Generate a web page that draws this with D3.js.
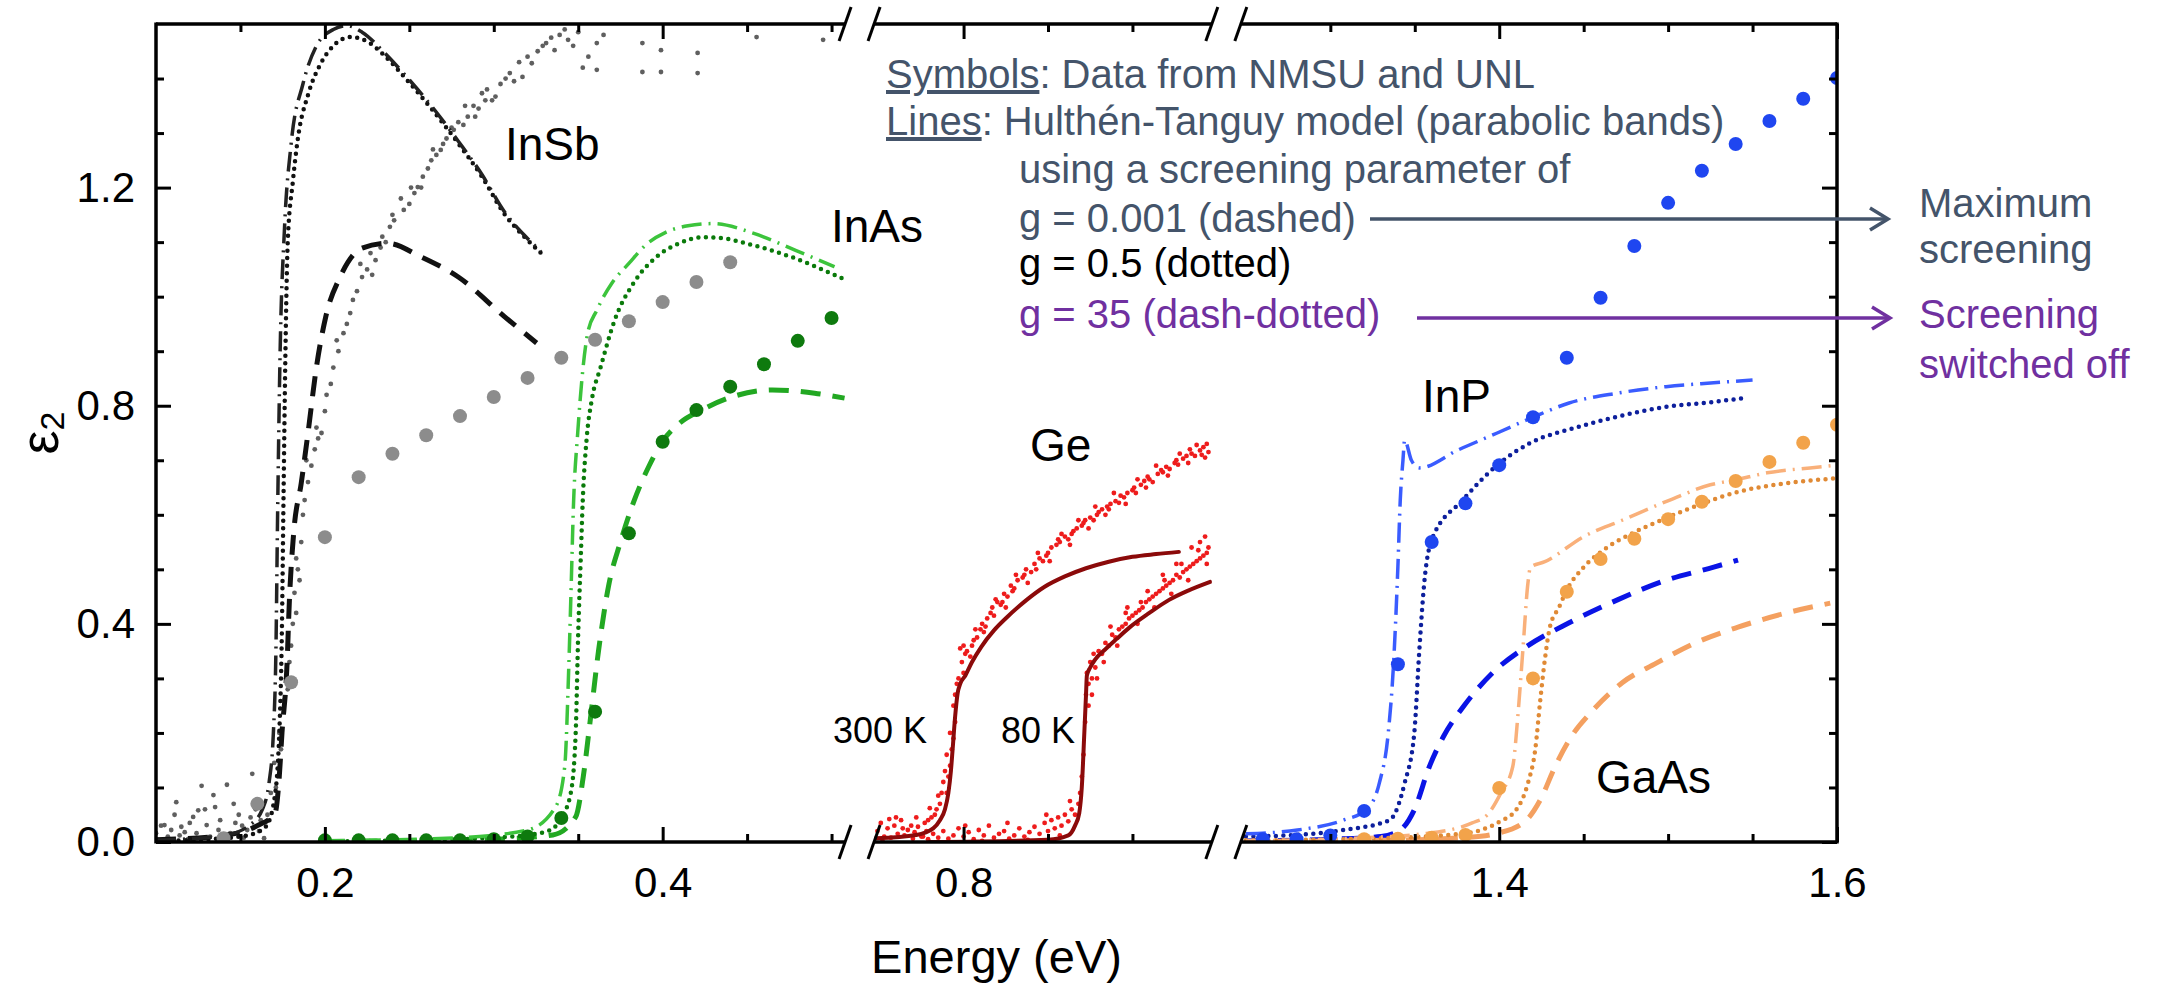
<!DOCTYPE html>
<html>
<head>
<meta charset="utf-8">
<script src="https://cdn.jsdelivr.net/npm/d3@7"></script>
<style>
  body { margin: 0; background: #fff; }
  text { font-family: "Liberation Sans", Arial, sans-serif; }
</style>
</head>
<body>
<div id="chart"></div>
<script>
// broken energy axis: three visible pieces
const segments = [[0.1, 0.508], [0.747, 0.947], [1.247, 1.6]];
const xMajorTicks = [0.2, 0.4, 0.8, 1.4, 1.6];
const xMinorTicks = [0.15, 0.25, 0.3, 0.35, 0.45, 0.5, 0.85, 0.9, 1.3, 1.35, 1.45, 1.5, 1.55];
const yMajorTicks = [0, 0.4, 0.8, 1.2];
const yMinorTicks = [0.1, 0.2, 0.3, 0.5, 0.6, 0.7, 0.9, 1.0, 1.1, 1.3, 1.4];

// InSb
const insbSymbols = [[0.14,0.007],[0.16,0.07],[0.18,0.293],[0.20,0.559],[0.22,0.669],[0.24,0.712],[0.26,0.746],[0.28,0.781],[0.30,0.816],[0.32,0.851],[0.34,0.888],[0.36,0.921],[0.38,0.955],[0.40,0.990],[0.42,1.027],[0.44,1.063]];
const insbData = [[0.100,0.016],[0.101,0.004],[0.103,0.03],[0.105,0.031],[0.107,0.01],[0.109,0.022],[0.111,0.05],[0.112,0.073],[0.114,0.012],[0.115,0.028],[0.117,0.018],[0.119,0.005],[0.120,0.035],[0.122,0.046],[0.124,0.016],[0.125,0.058],[0.127,0.103],[0.129,0.06],[0.130,0.031],[0.132,0.01],[0.134,0.086],[0.135,0.064],[0.137,0.022],[0.138,0.04],[0.140,0.012],[0.142,0.105],[0.144,0.016],[0.146,0.07],[0.147,0.035],[0.149,0.05],[0.151,0.03],[0.152,0.008],[0.154,0.022],[0.156,0.045],[0.157,0.125],[0.159,0.06],[0.161,0.02],[0.162,0.04],[0.164,0.007],[0.166,0.05],
  [0.168,0.09],[0.170,0.145],[0.171,0.1],[0.173,0.2],[0.174,0.17],[0.176,0.26],[0.177,0.3],[0.179,0.33],[0.180,0.36],[0.181,0.40],[0.182,0.457],[0.183,0.42],[0.184,0.5],[0.185,0.48],[0.186,0.55],[0.187,0.6],[0.188,0.627],[0.190,0.66],[0.192,0.69],[0.194,0.72],[0.196,0.74],[0.198,0.75],[0.200,0.79],[0.2035,0.84],[0.205,0.87],[0.208,0.90],[0.211,0.933],[0.213,0.95],[0.2166,0.994],[0.219,1.01],[0.222,1.036],[0.225,1.05],[0.228,1.04],[0.230,1.067],[0.233,1.09],[0.236,1.10],[0.2385,1.128],[0.241,1.14],[0.2467,1.159],[0.250,1.17],
  [0.178,0.28],[0.183,0.52],[0.189,0.70],[0.195,0.76],[0.201,0.82],[0.207,0.92],[0.215,0.97],[0.221,1.06],[0.227,1.08],[0.234,1.11],[0.240,1.15],[0.245,1.18],[0.251,1.20],[0.257,1.20],[0.264,1.27],[0.270,1.28],[0.275,1.31],[0.283,1.35],[0.289,1.33],[0.295,1.36],
  [0.253,1.19],[0.255,1.201],[0.258,1.22],[0.261,1.235],[0.263,1.25],[0.266,1.26],[0.2686,1.269],[0.272,1.29],[0.2763,1.306],[0.279,1.32],[0.282,1.315],[0.2846,1.33],[0.288,1.35],[0.291,1.345],[0.293,1.373],[0.296,1.38],[0.299,1.36],[0.301,1.367],[0.304,1.39],[0.307,1.40],[0.3095,1.41],[0.312,1.395],[0.315,1.43],[0.317,1.403],[0.320,1.44],[0.3225,1.428],[0.326,1.45],[0.329,1.46],[0.331,1.465],[0.334,1.475],[0.336,1.452],[0.339,1.48],[0.342,1.49],[0.344,1.471],[0.347,1.46],[0.350,1.485],[0.3527,1.42],[0.356,1.44],[0.361,1.465],[0.361,1.416],[0.365,1.48],[0.388,1.465],[0.388,1.412],[0.399,1.452],[0.399,1.412],[0.4207,1.447],[0.4207,1.41],[0.4556,1.476],[0.495,1.471]];
const insbDashed = [[0.100,0.004],[0.140,0.012],[0.160,0.03],[0.1705,0.053],[0.173,0.12],[0.1746,0.2],[0.1775,0.32],[0.179,0.444],[0.1815,0.566],[0.186,0.658],[0.190,0.75],[0.195,0.871],[0.2005,0.963],[0.209,1.036],[0.222,1.089],[0.237,1.098],[0.257,1.073],[0.279,1.036],[0.3065,0.963],[0.3254,0.915]];
const insbDotted = [[0.100,0.002],[0.130,0.005],[0.150,0.01],[0.160,0.018],[0.165,0.028],[0.170,0.077],[0.173,0.2],[0.1745,0.38],[0.1755,0.63],[0.1765,0.87],[0.178,1.10],[0.181,1.21],[0.184,1.29],[0.190,1.37],[0.198,1.43],[0.205,1.46],[0.215,1.476],[0.225,1.468],[0.236,1.44],[0.247,1.403],[0.263,1.345],[0.279,1.281],[0.293,1.22],[0.306,1.153],[0.318,1.11],[0.328,1.080]];
const insbDashDot = [[0.100,0.003],[0.140,0.012],[0.155,0.03],[0.163,0.06],[0.167,0.11],[0.1695,0.2],[0.171,0.35],[0.172,0.6],[0.1735,0.9],[0.176,1.12],[0.180,1.28],[0.187,1.39],[0.195,1.46],[0.205,1.49],[0.213,1.497],[0.222,1.485],[0.236,1.445],[0.247,1.408],[0.263,1.35],[0.279,1.285],[0.293,1.224],[0.306,1.157],[0.318,1.113],[0.328,1.083]];

// InAs
const inasSymbols = [[0.20,0.003],[0.22,0.003],[0.24,0.003],[0.26,0.003],[0.28,0.003],[0.30,0.005],[0.32,0.01],[0.34,0.044],[0.36,0.239],[0.38,0.566],[0.40,0.734],[0.42,0.792],[0.44,0.835],[0.46,0.876],[0.48,0.919],[0.50,0.961]];
const inasDashed = [[0.20,0.001],[0.30,0.005],[0.335,0.013],[0.3485,0.046],[0.353,0.12],[0.357,0.22],[0.362,0.35],[0.368,0.47],[0.375,0.55],[0.383,0.625],[0.392,0.69],[0.40,0.735],[0.41,0.768],[0.423,0.792],[0.4408,0.816],[0.465,0.829],[0.49,0.823],[0.5077,0.814]];
const inasDotted = [[0.20,0.001],[0.25,0.003],[0.30,0.008],[0.32,0.013],[0.3337,0.022],[0.340,0.045],[0.3456,0.09],[0.3485,0.2],[0.350,0.383],[0.3515,0.52],[0.3527,0.627],[0.355,0.74],[0.358,0.81],[0.3633,0.871],[0.3716,0.957],[0.3828,1.025],[0.3964,1.073],[0.41,1.098],[0.4231,1.109],[0.436,1.107],[0.449,1.098],[0.476,1.073],[0.506,1.034]];
const inasDashDot = [[0.20,0.002],[0.28,0.008],[0.32,0.022],[0.3367,0.065],[0.342,0.138],[0.3444,0.32],[0.3456,0.444],[0.3473,0.627],[0.3497,0.75],[0.3556,0.933],[0.361,0.975],[0.37,1.025],[0.38,1.061],[0.39,1.095],[0.4018,1.118],[0.415,1.13],[0.43,1.134],[0.454,1.116],[0.4787,1.085],[0.5018,1.055]];

// Ge (300 K and 80 K)
const ge300Data = [[0.749,0.020],[0.751,0.035],[0.753,0.010],[0.755,0.025],[0.757,0.008],[0.759,0.030],[0.761,0.015],[0.763,0.040],[0.765,0.012],[0.767,0.022],[0.769,0.030],[0.771,0.018],[0.773,0.028],[0.775,0.010],[0.777,0.035],[0.779,0.040],[0.781,0.045],[0.783,0.050],[0.760,0.045],[0.770,0.006],[0.778,0.020],[0.752,0.002],[0.756,0.042],[0.764,0.025],[0.772,0.045],[0.780,0.062],[0.785,0.085],
  [0.784,0.060],[0.786,0.070],[0.787,0.090],[0.788,0.110],[0.789,0.130],[0.790,0.160],[0.791,0.120],[0.792,0.200],[0.793,0.170],[0.794,0.250],[0.795,0.220],[0.796,0.290],[0.797,0.300],[0.799,0.330],[0.800,0.310],[0.790,0.09],[0.792,0.14],[0.794,0.19],[0.795,0.27],[0.798,0.355],[0.800,0.36],
  [0.801,0.345],[0.802,0.350],[0.804,0.340],[0.805,0.360],[0.806,0.370],[0.808,0.375],[0.810,0.390],[0.811,0.400],[0.812,0.385],[0.814,0.410],[0.816,0.420],[0.817,0.430],[0.818,0.415],[0.820,0.440],[0.822,0.435],[0.823,0.440],[0.824,0.455],[0.826,0.450],[0.828,0.470],[0.829,0.460],[0.830,0.465],[0.832,0.480],[0.835,0.485],[0.836,0.490],[0.837,0.500],[0.840,0.495],[0.842,0.510],[0.843,0.500],[0.845,0.520],[0.847,0.515],[0.849,0.525],[0.850,0.530],[0.852,0.540],[0.855,0.545],[0.856,0.555],[0.857,0.550],[0.860,0.560],[0.862,0.555],[0.864,0.565],[0.865,0.570],[0.867,0.575],[0.870,0.580],[0.871,0.585],[0.872,0.590],[0.875,0.595],[0.877,0.590],[0.879,0.600],[0.880,0.605],[0.882,0.610],[0.885,0.615],[0.886,0.610],[0.887,0.620],[0.890,0.625],[0.892,0.622],[0.893,0.635],[0.895,0.632],[0.897,0.640],[0.900,0.645],[0.901,0.650],[0.902,0.640],[0.905,0.655],[0.907,0.662],[0.909,0.670],[0.910,0.665],[0.912,0.660],[0.915,0.675],[0.917,0.682],[0.918,0.678],[0.920,0.688],[0.922,0.684],[0.925,0.695],[0.926,0.700],[0.927,0.692],[0.930,0.703],[0.932,0.708],[0.934,0.720],[0.935,0.712],[0.937,0.708],[0.940,0.718],[0.941,0.710],[0.942,0.724],[0.944,0.730],[0.945,0.715],
  [0.807,0.39],[0.813,0.395],[0.819,0.445],[0.825,0.43],[0.831,0.49],[0.838,0.475],[0.844,0.53],[0.851,0.515],[0.858,0.565],[0.863,0.545],[0.868,0.59],[0.874,0.575],[0.878,0.615],[0.884,0.60],[0.889,0.64],[0.896,0.62],[0.903,0.665],[0.908,0.65],[0.914,0.69],[0.921,0.672],[0.928,0.712],[0.933,0.695],[0.938,0.728],[0.943,0.705]];
const ge80Data = [[0.776,0.010],[0.779,0.005],[0.782,0.015],[0.785,0.008],[0.788,0.020],[0.791,0.006],[0.794,0.012],[0.797,0.025],[0.800,0.010],[0.803,0.018],[0.806,0.005],[0.809,0.022],[0.812,0.012],[0.815,0.030],[0.818,0.008],[0.821,0.015],[0.824,0.020],[0.827,0.006],[0.830,0.012],[0.833,0.025],[0.836,0.010],[0.839,0.018],[0.842,0.028],[0.845,0.015],[0.848,0.035],[0.850,0.020],[0.852,0.040],[0.854,0.025],[0.856,0.045],[0.858,0.030],[0.860,0.050],[0.862,0.038],[0.864,0.060],[0.866,0.050],[0.868,0.070],[0.869,0.090],[0.801,0.03],[0.811,0.002],[0.826,0.035],[0.838,0.004],[0.849,0.05],[0.857,0.012],[0.863,0.075],
  [0.870,0.120],[0.871,0.160],[0.872,0.220],[0.8725,0.270],[0.873,0.310],[0.874,0.290],[0.875,0.330],[0.876,0.300],[0.877,0.345],[0.878,0.320],[0.880,0.350],[0.882,0.345],[0.884,0.365],[0.886,0.360],[0.888,0.380],[0.890,0.375],[0.892,0.390],[0.894,0.395],[0.896,0.400],[0.898,0.410],[0.900,0.415],[0.902,0.420],[0.904,0.425],[0.906,0.430],[0.908,0.440],[0.910,0.445],[0.912,0.450],[0.914,0.455],[0.916,0.460],[0.918,0.465],[0.920,0.470],[0.922,0.475],[0.924,0.480],[0.926,0.490],[0.928,0.485],[0.930,0.495],[0.932,0.500],[0.934,0.505],[0.936,0.510],[0.938,0.515],[0.940,0.520],[0.942,0.525],[0.944,0.530],[0.945,0.540],[0.940,0.550],[0.943,0.560],[0.935,0.540],[0.926,0.510],[0.918,0.490],[0.905,0.440],[0.896,0.420],
  [0.874,0.25],[0.876,0.27],[0.879,0.30],[0.883,0.33],[0.887,0.395],[0.891,0.36],[0.897,0.43],[0.903,0.40],[0.909,0.46],[0.913,0.43],[0.919,0.48],[0.923,0.455],[0.929,0.51],[0.933,0.48],[0.939,0.535],[0.944,0.51]];
const ge300Model = [[0.748,0.007],[0.772,0.013],[0.782,0.025],[0.786,0.04],[0.789,0.06],[0.791,0.09],[0.7925,0.13],[0.7935,0.169],[0.795,0.23],[0.7965,0.273],[0.798,0.29],[0.801,0.305],[0.805,0.33],[0.8105,0.358],[0.818,0.388],[0.826,0.413],[0.837,0.443],[0.848,0.468],[0.86,0.487],[0.8725,0.502],[0.886,0.514],[0.900,0.523],[0.914,0.528],[0.9275,0.532]];
const ge80Model = [[0.78,0.0],[0.85,0.004],[0.862,0.012],[0.866,0.03],[0.8685,0.053],[0.870,0.1],[0.8715,0.2],[0.8725,0.27],[0.873,0.305],[0.875,0.32],[0.878,0.335],[0.8835,0.352],[0.8905,0.372],[0.8985,0.394],[0.91,0.42],[0.9217,0.444],[0.933,0.461],[0.946,0.477]];

// InP
const inpSymbols = [[1.26,0.005],[1.28,0.005],[1.30,0.012],[1.32,0.057],[1.34,0.326],[1.36,0.55],[1.38,0.621],[1.40,0.691],[1.42,0.779],[1.44,0.888],[1.46,0.998],[1.48,1.093],[1.50,1.172],[1.52,1.231],[1.54,1.280],[1.56,1.322],[1.58,1.363],[1.60,1.401]];
const inpDashed = [[1.25,0.002],[1.30,0.005],[1.33,0.01],[1.3414,0.022],[1.3497,0.059],[1.3586,0.138],[1.3669,0.193],[1.3787,0.248],[1.396,0.31],[1.416,0.358],[1.4414,0.402],[1.47,0.444],[1.4988,0.48],[1.527,0.504],[1.5414,0.517]];
const inpDotted = [[1.25,0.01],[1.28,0.013],[1.3077,0.022],[1.335,0.04],[1.344,0.108],[1.3497,0.2],[1.3527,0.352],[1.3556,0.475],[1.36,0.554],[1.3787,0.628],[1.3988,0.691],[1.4185,0.732],[1.4444,0.759],[1.47,0.78],[1.4988,0.798],[1.527,0.807],[1.5444,0.814]];
const inpDashDot = [[1.25,0.015],[1.2805,0.022],[1.3077,0.04],[1.3213,0.059],[1.329,0.108],[1.3343,0.2],[1.3373,0.32],[1.340,0.505],[1.3414,0.627],[1.343,0.70],[1.344,0.737],[1.348,0.70],[1.3527,0.686],[1.3757,0.719],[1.3988,0.75],[1.42,0.779],[1.4414,0.805],[1.4698,0.823],[1.4988,0.835],[1.527,0.842],[1.55,0.847]];

// GaAs
const gaasSymbols = [[1.32,0.005],[1.34,0.006],[1.36,0.008],[1.38,0.013],[1.40,0.099],[1.42,0.30],[1.44,0.459],[1.46,0.519],[1.48,0.556],[1.50,0.592],[1.52,0.624],[1.54,0.662],[1.56,0.697],[1.58,0.732],[1.60,0.765]];
const gaasDashed = [[1.25,0.001],[1.33,0.003],[1.38,0.008],[1.399,0.016],[1.416,0.04],[1.4243,0.077],[1.433,0.138],[1.4414,0.187],[1.4556,0.242],[1.4728,0.292],[1.493,0.328],[1.516,0.365],[1.5414,0.394],[1.57,0.42],[1.596,0.438]];
const gaasDotted = [[1.25,0.003],[1.32,0.006],[1.38,0.016],[1.40,0.037],[1.41,0.059],[1.417,0.108],[1.4213,0.169],[1.4243,0.26],[1.427,0.334],[1.43,0.394],[1.4355,0.431],[1.44,0.462],[1.45,0.504],[1.4615,0.535],[1.4787,0.566],[1.4988,0.594],[1.518,0.618],[1.5414,0.642],[1.57,0.658],[1.6,0.667]];
const gaasDashDot = [[1.25,0.002],[1.32,0.008],[1.355,0.015],[1.384,0.035],[1.393,0.05],[1.401,0.09],[1.408,0.138],[1.411,0.23],[1.414,0.352],[1.417,0.475],[1.4185,0.504],[1.427,0.514],[1.45,0.56],[1.4728,0.59],[1.501,0.627],[1.525,0.655],[1.54,0.664],[1.5586,0.677],[1.584,0.686],[1.6,0.691]];

const width = 2157, height = 985;
const mLeft = 156, mRight = 1837, mTop = 24, mBottom = 842, gap = 29;

const svg = d3.select("#chart")
    .append("svg")
    .attr("width", width)
    .attr("height", height);

// one linear scale per axis piece, same eV -> px ratio
const span = d3.sum(segments, s => s[1] - s[0]);
const pxPerEv = (mRight - mLeft - gap * (segments.length - 1)) / span;
let pos = mLeft;
const xs = segments.map(s => {
    const w = (s[1] - s[0]) * pxPerEv;
    const sc = d3.scaleLinear().domain(s).range([pos, pos + w]);
    pos += w + gap;
    return sc;
});

const y = d3.scaleLinear()
    .domain([0, 1.5])
    .range([mBottom, mTop]);

const defs = svg.append("defs");
xs.forEach((sc, i) => {
    const r = sc.range();
    defs.append("clipPath")
        .attr("id", "clip" + i)
        .append("rect")
        .attr("x", r[0])
        .attr("y", mTop)
        .attr("width", r[1] - r[0])
        .attr("height", mBottom - mTop);
});

const lineStyles = {
    dashed: { width: 5, dash: "20 12", cap: "butt" },
    dotted: { width: 4.5, dash: "0 7.5", cap: "round" },
    dashdot: { width: 3.5, dash: "20 7 2 7", cap: "butt" },
    solid: { width: 4, dash: null, cap: "round" }
};

const lineSeries = [
    { data: insbDashed, seg: 0, color: "#111111", style: "dashed" },
    { data: insbDotted, seg: 0, color: "#111111", style: "dotted" },
    { data: insbDashDot, seg: 0, color: "#222222", style: "dashdot" },
    { data: inasDashed, seg: 0, color: "#22a822", style: "dashed" },
    { data: inasDotted, seg: 0, color: "#0a7a0a", style: "dotted" },
    { data: inasDashDot, seg: 0, color: "#3cc43c", style: "dashdot" },
    { data: ge300Model, seg: 1, color: "#8b0a0a", style: "solid" },
    { data: ge80Model, seg: 1, color: "#8b0a0a", style: "solid" },
    { data: inpDashed, seg: 2, color: "#0a14e6", style: "dashed" },
    { data: inpDotted, seg: 2, color: "#0d1f9c", style: "dotted" },
    { data: inpDashDot, seg: 2, color: "#3a5cff", style: "dashdot" },
    { data: gaasDashed, seg: 2, color: "#f4a060", style: "dashed" },
    { data: gaasDotted, seg: 2, color: "#e08a35", style: "dotted" },
    { data: gaasDashDot, seg: 2, color: "#f9b07a", style: "dashdot" }
];

const scatterSeries = [
    { data: insbData, seg: 0, color: "#5f5f5f", r: 2.4 },
    { data: ge300Data, seg: 1, color: "#ee1c1c", r: 2.4 },
    { data: ge80Data, seg: 1, color: "#ee1c1c", r: 2.4 },
    { data: insbSymbols, seg: 0, color: "#8c8c8c", r: 7 },
    { data: inasSymbols, seg: 0, color: "#0e7a0e", r: 7 },
    { data: inpSymbols, seg: 2, color: "#1f46f0", r: 7 },
    { data: gaasSymbols, seg: 2, color: "#f2a34a", r: 7 }
];

const plot = svg.append("g");

function drawDots(s) {
    plot.append("g")
        .attr("clip-path", `url(#clip${s.seg})`)
        .selectAll("circle")
        .data(s.data)
        .enter()
        .append("circle")
        .attr("cx", d => xs[s.seg](d[0]))
        .attr("cy", d => y(d[1]))
        .attr("r", s.r)
        .attr("fill", s.color);
}

// small data dots first, model lines over them, then the symbols
scatterSeries.slice(0, 3).forEach(s => drawDots(s));

lineSeries.forEach(s => {
    const st = lineStyles[s.style];
    const line = d3.line()
        .x(d => xs[s.seg](d[0]))
        .y(d => y(d[1]))
        .curve(d3.curveMonotoneX);
    plot.append("path")
        .datum(s.data)
        .attr("clip-path", `url(#clip${s.seg})`)
        .attr("fill", "none")
        .attr("stroke", s.color)
        .attr("stroke-width", st.width)
        .attr("stroke-dasharray", st.dash)
        .attr("stroke-linecap", st.cap)
        .attr("d", line);
});

scatterSeries.slice(3).forEach(s => drawDots(s));

// axes
function styleAxis(g) {
    g.select(".domain").remove();
    g.selectAll(".tick line").attr("stroke", "#000").attr("stroke-width", 3);
    g.selectAll(".tick text")
        .attr("fill", "#000")
        .attr("font-size", 42)
        .attr("font-family", '"Liberation Sans", Arial, sans-serif');
}

const inSeg = (t, s) => t >= s[0] - 1e-9 && t <= s[1] + 1e-9;

xs.forEach((sc, i) => {
    const seg = segments[i];
    const maj = xMajorTicks.filter(t => inSeg(t, seg));
    const min = xMinorTicks.filter(t => inSeg(t, seg));

    svg.append("g").attr("transform", `translate(0,${mBottom})`)
        .call(d3.axisBottom(sc).tickValues(min).tickSize(-8).tickFormat(""))
        .call(styleAxis);
    svg.append("g").attr("transform", `translate(0,${mBottom})`)
        .call(d3.axisBottom(sc).tickValues(maj).tickSize(-15).tickPadding(25).tickFormat(d3.format(".1f")))
        .call(styleAxis);
    svg.append("g").attr("transform", `translate(0,${mTop})`)
        .call(d3.axisTop(sc).tickValues(min).tickSize(-8).tickFormat(""))
        .call(styleAxis);
    svg.append("g").attr("transform", `translate(0,${mTop})`)
        .call(d3.axisTop(sc).tickValues(maj).tickSize(-15).tickFormat(""))
        .call(styleAxis);
});

svg.append("g").attr("transform", `translate(${mLeft},0)`)
    .call(d3.axisLeft(y).tickValues(yMinorTicks).tickSize(-8).tickFormat(""))
    .call(styleAxis);
svg.append("g").attr("transform", `translate(${mLeft},0)`)
    .call(d3.axisLeft(y).tickValues(yMajorTicks).tickSize(-15).tickPadding(21).tickFormat(d3.format(".1f")))
    .call(styleAxis);
svg.append("g").attr("transform", `translate(${mRight},0)`)
    .call(d3.axisRight(y).tickValues(yMinorTicks).tickSize(-8).tickFormat(""))
    .call(styleAxis);
svg.append("g").attr("transform", `translate(${mRight},0)`)
    .call(d3.axisRight(y).tickValues(yMajorTicks).tickSize(-15).tickFormat(""))
    .call(styleAxis);

// frame with break marks
const frameG = svg.append("g").attr("stroke", "#000").attr("fill", "none");
function breakMark(x, yy) {
    frameG.append("line")
        .attr("x1", x - 6).attr("y1", yy + 17)
        .attr("x2", x + 6).attr("y2", yy - 17)
        .attr("stroke-width", 3);
}
frameG.append("line").attr("x1", mLeft).attr("x2", mLeft).attr("y1", mTop - 1.5).attr("y2", mBottom + 1.5).attr("stroke-width", 3.5);
frameG.append("line").attr("x1", mRight).attr("x2", mRight).attr("y1", mTop - 1.5).attr("y2", mBottom + 1.5).attr("stroke-width", 3.5);
xs.forEach((sc, i) => {
    const r = sc.range();
    [mTop, mBottom].forEach(yy => {
        frameG.append("line").attr("x1", r[0]).attr("x2", r[1]).attr("y1", yy).attr("y2", yy).attr("stroke-width", 3.5);
        if (i > 0) breakMark(r[0], yy);
        if (i < xs.length - 1) breakMark(r[1], yy);
    });
});

// axis titles
svg.append("text")
    .attr("x", (mLeft + mRight) / 2)
    .attr("y", 973)
    .attr("text-anchor", "middle")
    .attr("font-size", 47)
    .text("Energy (eV)");

const yTitle = svg.append("text")
    .attr("transform", "translate(58,433) rotate(-90)")
    .attr("text-anchor", "middle")
    .attr("font-size", 54);
yTitle.append("tspan").text("ε");
yTitle.append("tspan").attr("font-size", 34).attr("dy", 6).text("2");

// material labels
const labels = [
    { t: "InSb", x: 505, y: 160, s: 46 },
    { t: "InAs", x: 831, y: 242, s: 46 },
    { t: "Ge", x: 1030, y: 461, s: 46 },
    { t: "InP", x: 1422, y: 412, s: 46 },
    { t: "GaAs", x: 1596, y: 793, s: 46 },
    { t: "300 K", x: 833, y: 743, s: 36 },
    { t: "80 K", x: 1001, y: 743, s: 36 }
];
svg.selectAll("text.lab")
    .data(labels)
    .enter()
    .append("text")
    .attr("class", "lab")
    .attr("x", d => d.x)
    .attr("y", d => d.y)
    .attr("font-size", d => d.s)
    .attr("fill", "#000")
    .text(d => d.t);

// legend notes
const slate = "#44546a", purple = "#7030a0";
const note = svg.append("g").attr("font-size", 40);

const l1 = note.append("text").attr("x", 886).attr("y", 88).attr("fill", slate);
l1.append("tspan").attr("text-decoration", "underline").text("Symbols");
l1.append("tspan").text(": Data from NMSU and UNL");
const l2 = note.append("text").attr("x", 886).attr("y", 135).attr("fill", slate);
l2.append("tspan").attr("text-decoration", "underline").text("Lines");
l2.append("tspan").text(": Hulthén-Tanguy model (parabolic bands)");
note.append("text").attr("x", 1019).attr("y", 183).attr("fill", slate).text("using a screening parameter of");
note.append("text").attr("x", 1019).attr("y", 232).attr("fill", slate).text("g = 0.001 (dashed)");
note.append("text").attr("x", 1019).attr("y", 277).attr("fill", "#000").text("g = 0.5 (dotted)");
note.append("text").attr("x", 1019).attr("y", 328).attr("fill", purple).text("g = 35 (dash-dotted)");

note.append("text").attr("x", 1919).attr("y", 217).attr("fill", slate).text("Maximum");
note.append("text").attr("x", 1919).attr("y", 263).attr("fill", slate).text("screening");
note.append("text").attr("x", 1919).attr("y", 328).attr("fill", purple).text("Screening");
note.append("text").attr("x", 1919).attr("y", 378).attr("fill", purple).text("switched off");

function arrow(x1, x2, yy, color) {
    const g = svg.append("g").attr("stroke", color).attr("stroke-width", 3.5).attr("fill", "none");
    g.append("line").attr("x1", x1).attr("x2", x2).attr("y1", yy).attr("y2", yy);
    g.append("polyline")
        .attr("points", `${x2 - 18},${yy - 11} ${x2},${yy} ${x2 - 18},${yy + 11}`)
        .attr("stroke-linejoin", "miter");
}
arrow(1370, 1888, 219, slate);
arrow(1417, 1890, 318, purple);
</script>
</body>
</html>
